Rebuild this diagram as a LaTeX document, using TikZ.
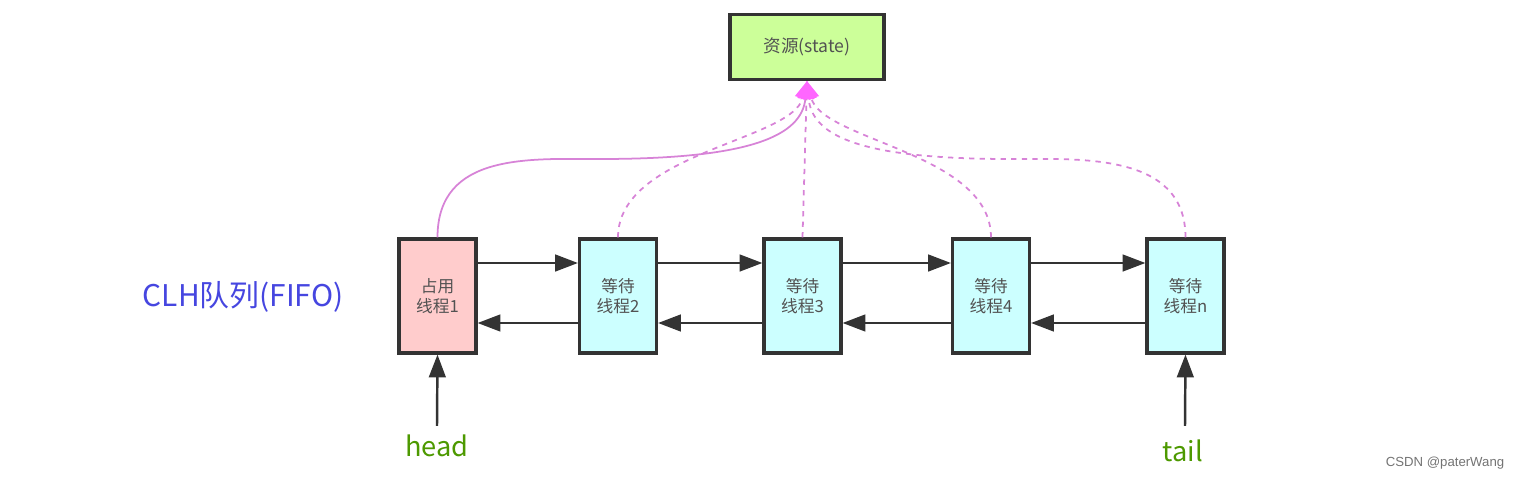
\documentclass[tikz,border=0pt]{standalone}
\usepackage{fontspec}
\setmainfont{Noto Sans CJK SC}
\newfontfamily\csdnfont{Liberation Sans}
\usetikzlibrary{arrows.meta,calc}

\definecolor{boxline}{HTML}{333333}
\definecolor{greenfill}{HTML}{CCFF99}
\definecolor{redfill}{HTML}{FFCCCC}
\definecolor{cyanfill}{HTML}{CCFFFF}
\definecolor{linkline}{HTML}{D783D7}
\definecolor{linktip}{HTML}{FF66FF}
\definecolor{labgreen}{HTML}{4D9900}
\definecolor{labblue}{HTML}{4646E0}

\tikzset{
  thread/.style={draw=boxline, line width=1.8pt, minimum width=1.54cm, minimum height=2.28cm,
    align=center, text=boxline!85, font=\fontsize{9.5}{11.5}\selectfont, inner sep=0pt},
  link/.style={draw=boxline, line width=1.4pt, -{Triangle[length=13pt,width=9.5pt]}},
  grab/.style={draw=linkline, line width=1pt, -{Triangle[length=10pt,width=9pt,color=linktip]}},
}

\begin{document}
\begin{tikzpicture}[x=0.02cm,y=-0.02cm]
 \useasboundingbox (0,0) rectangle (1526,480);
 % resource
 \node[draw=boxline, fill=greenfill, line width=1.8pt, minimum width=3.08cm, minimum height=1.3cm,
   text=boxline!85, font=\fontsize{10}{12}\selectfont] (state) at (807,47) {资源(state)};
 % queue
 \node[thread, fill=redfill] (b1) at (437.5,296) {占用\\线程1};
 \node[thread, fill=cyanfill] (b2) at (618,296) {等待\\线程2};
 \node[thread, fill=cyanfill] (b3) at (802.5,296) {等待\\线程3};
 \node[thread, fill=cyanfill] (b4) at (991,296) {等待\\线程4};
 \node[thread, fill=cyanfill] (b5) at (1185.5,296) {等待\\线程n};
 \node[text=labblue, font=\fontsize{17}{20}\selectfont] (clh) at (243,297) {CLH队列(FIFO)};
 % next / prev
 \foreach \a/\b in {b1/b2,b2/b3,b3/b4,b4/b5} {
   \draw[link] ($(\a.east)+(0,-33)$) -- ($(\b.west)+(0,-33)$);
   \draw[link] ($(\b.west)+(0,27)$) -- ($(\a.east)+(0,27)$);
 }
 % head / tail
 \node[text=labgreen, font=\fontsize{15.5}{18}\selectfont] (head) at (437,446) {head};
 \node[text=labgreen, font=\fontsize{15.5}{18}\selectfont] (tail) at (1183,451) {tail};
 \draw[link] (head.north) ++(0,-3) coordinate (hs) (hs) -- (b1.south);
 \draw[link] (tail.north) ++(2,-8) coordinate (ts) (ts) -- (b5.south);
 % to the resource
 \draw[grab] (b1.north) .. controls +(0,-85) and +(-70,0) .. (600,159) .. controls +(150,0) and +(-5,55) .. (state.south);
 \draw[grab, dashed] (b2.north) .. controls +(0,-85) and +(-15,60) .. (state.south);
 \draw[grab, dashed] (b3.north) -- (state.south);
 \draw[grab, dashed] (b4.north) .. controls +(0,-85) and +(15,60) .. (state.south);
 \draw[grab, dashed] (b5.north) .. controls +(0,-85) and +(70,0) .. (1010,159) .. controls +(-150,0) and +(5,55) .. (state.south);
 \node[text=black!55, font=\csdnfont\fontsize{7.5}{9}\selectfont] (csdn) at (1445,463) {CSDN @paterWang};
\end{tikzpicture}
\end{document}
